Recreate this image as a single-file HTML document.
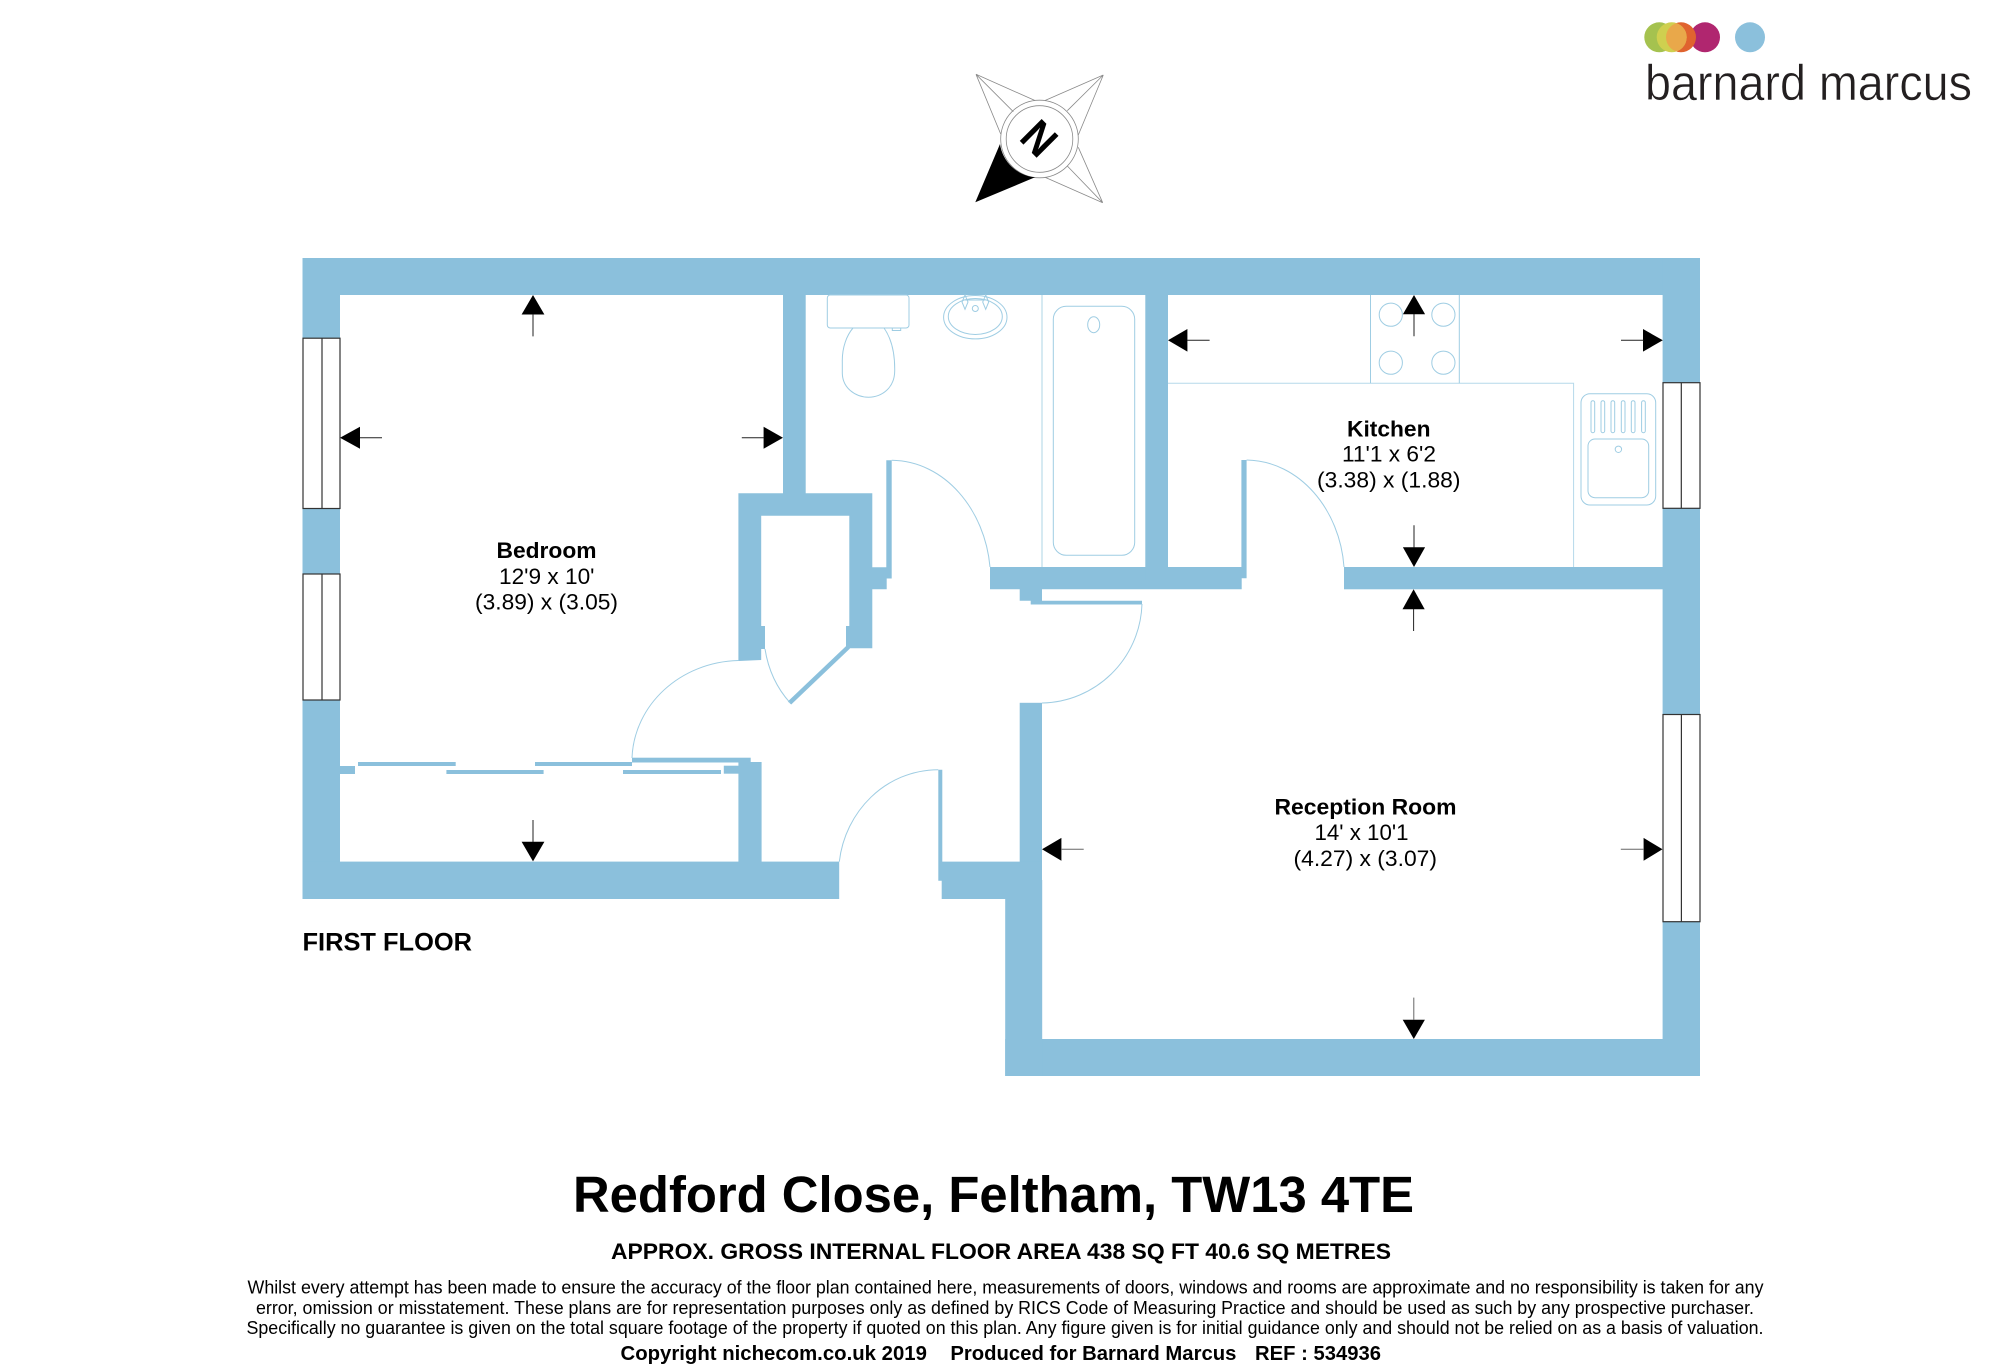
<!DOCTYPE html>
<html><head><meta charset="utf-8"><style>
html,body{margin:0;padding:0;background:#fff}
svg{display:block}
text{font-family:"Liberation Sans",sans-serif;fill:#000}
.b{font-weight:bold}
.t{font-size:22.5px}
.d{font-size:18px}
.l{fill:none;stroke:#9fcde3;stroke-width:1}
.a{stroke:#222;stroke-width:1;fill:none}
.w{fill:#fff;stroke:#333;stroke-width:1.2}
</style></head><body>
<svg width="2000" height="1372" viewBox="0 0 2000 1372" xmlns="http://www.w3.org/2000/svg">
<defs><clipPath id="oc"><circle cx="1681" cy="37.3" r="15"/></clipPath></defs>
<rect width="2000" height="1372" fill="#fff"/>

<!-- logo -->
<circle cx="1705" cy="37.3" r="15" fill="#b0266f"/>
<circle cx="1681" cy="37.3" r="15" fill="#e0632f"/>
<circle cx="1659.3" cy="37.3" r="15" fill="#a5c24f"/>
<circle cx="1671.7" cy="37.3" r="15" fill="#cfd04f"/>
<circle cx="1671.7" cy="37.3" r="15" fill="#e9a84a" clip-path="url(#oc)"/>
<circle cx="1750" cy="37.3" r="15" fill="#8bc0dc"/>
<text x="1645" y="100" font-size="50" textLength="327" lengthAdjust="spacingAndGlyphs" style="fill:#231f20;stroke:#fff;stroke-width:.5">barnard marcus</text>

<!-- compass -->
<g fill="none" stroke="#8a8a8a" stroke-width=".8">
<path d="M976 74.3L1035 100.5M976 74.3L1000.7 134M976 74.3L1013.3 111.7"/>
<path d="M1103.3 75L1045 100.5M1103.3 75L1078.3 135M1103.3 75L1067.3 110.7"/>
<path d="M1102.7 202.7L1045 177.3M1102.7 202.7L1078.3 147.3M1102.7 202.7L1067.3 166"/>
<circle cx="1039.5" cy="139" r="38.8"/>
<circle cx="1039.5" cy="139" r="33.3"/>
</g>
<path d="M975.3 202.3L1000 144A39 39 0 0 0 1035 177.3Z" fill="#000"/>
<text class="b" transform="translate(1039.5 138) rotate(45) scale(.9 1)" x="0" y="16" text-anchor="middle" font-size="45">N</text>

<!-- walls -->
<g fill="#8bc0dc">
<rect x="302.5" y="258" width="1397.5" height="37"/>
<rect x="302.5" y="258" width="37.5" height="641"/>
<rect x="1662.6" y="258" width="37.4" height="818"/>
<rect x="1005.2" y="1039" width="694.8" height="37"/>
<rect x="1005.2" y="880" width="37" height="196"/>
<rect x="1019.7" y="702.8" width="22.3" height="200"/>
<rect x="302.5" y="861.6" width="536.7" height="37.4"/>
<path d="M938.3 769.7H942.3V861.6H1042V899H941.7V880.7H938.3Z"/>
<rect x="738.4" y="762" width="23.2" height="110"/>
<rect x="632" y="757.7" width="118.7" height="4.8"/>
<rect x="340" y="766" width="15" height="8"/>
<rect x="358" y="762" width="97.7" height="4"/>
<rect x="446.4" y="770" width="97.2" height="4"/>
<rect x="535" y="762" width="97" height="4"/>
<rect x="623" y="770" width="98" height="4"/>
<rect x="723.8" y="765.7" width="15" height="8"/>
<rect x="783" y="290" width="22.7" height="210"/>
<path d="M738.4 493.3H872.3V648.3H846V626H849.3V515.7H761.2V626H765V649H761.2V660L738.4 661Z"/>
<path d="M846.7 645.5L850 648.5L791.2 704.5L787.8 701.5Z"/>
<path d="M872 567.3H886.3V460.3H891.7V578.5H886.7V589.3H872Z"/>
<path d="M990 567H1241.4V460H1246.6V578.3H1241.7V589.3H990Z"/>
<path d="M1019.7 589H1042V600.7H1142V604.5H1030.7V600.7H1019.7Z"/>
<rect x="1145.3" y="290" width="22.7" height="290"/>
<rect x="1344" y="567" width="330" height="22.3"/>
</g>

<!-- windows -->
<g class="w">
<rect class="w" x="303" y="338.2" width="37" height="170.3"/><path class="w" d="M322 338.2V508.5"/>
<rect class="w" x="303" y="574" width="37" height="126"/><path class="w" d="M322 574V700"/>
<rect class="w" x="1663" y="382.7" width="37" height="125.6"/><path class="w" d="M1681.3 382.7V508.3"/>
<rect class="w" x="1663" y="714.5" width="37" height="207.2"/><path class="w" d="M1681.4 714.5V921.7"/>
</g>

<!-- door arcs -->
<g class="l">
<path d="M632 758C634 705 680 662 738.4 660.5"/>
<path d="M765 649C768 668 775 686 790 702.7"/>
<path d="M891.7 460.3C945 461 985 510 990 567"/>
<path d="M1246.6 460C1300 461 1340 510 1344 567"/>
<path d="M1142 604C1140 660 1095 702 1042 703"/>
<path d="M839.3 861.7C845 812 885 770 938.3 769.7"/>
<!-- fixtures -->
<path d="M1042 295V567" stroke-width="1.4" style="stroke:#c5e0ec"/>
<rect x="827.3" y="295" width="81.7" height="33" rx="3"/>
<path d="M892.3 328V330.5H900.7V328"/>
<path d="M853 328C847 335 842 347 842.3 362L842.3 373C842.5 388 855 397 868.5 397.3C882 397 894.5 388 894.7 371C895 352 891 338 884 328"/>
<ellipse cx="975.3" cy="317.2" rx="31.7" ry="21.7"/>
<ellipse cx="975.3" cy="316.5" rx="27" ry="18"/>
<circle cx="975.3" cy="308.5" r="3"/>
<path d="M965 295L968 302L965 309.3L962 302ZM985.7 295L988.7 302L985.7 309.3L982.7 302ZM965 300H985.7"/>
<rect x="1053.3" y="306.3" width="81.4" height="249" rx="13"/>
<ellipse cx="1093.7" cy="324.7" rx="6" ry="8"/>
<path d="M1168 383.3H1573.6V567" style="stroke:#b5d9ea"/>
<path d="M1370.5 295V383.3M1459.3 295V383.3"/>
<circle cx="1390.8" cy="314.7" r="11.6"/><circle cx="1443.4" cy="314.7" r="11.6"/>
<circle cx="1390.8" cy="362.7" r="11.6"/><circle cx="1443.4" cy="362.7" r="11.6"/>
<rect x="1581" y="393.7" width="74.7" height="111.3" rx="9"/>
<rect x="1588" y="439" width="60.7" height="58.7" rx="7"/>
<circle cx="1618.4" cy="449.3" r="3.2"/>
<rect x="1591" y="400.7" width="3.7" height="32" rx="1.8"/>
<rect x="1601" y="400.7" width="3.7" height="32" rx="1.8"/>
<rect x="1611" y="400.7" width="3.7" height="32" rx="1.8"/>
<rect x="1621.3" y="400.7" width="3.7" height="32" rx="1.8"/>
<rect x="1631.3" y="400.7" width="3.7" height="32" rx="1.8"/>
<rect x="1641.6" y="400.7" width="3.7" height="32" rx="1.8"/>
</g>

<!-- dimension arrows -->
<g fill="#000">
<path d="M533 295L544.4 314.5H521.6Z"/><path class="a" d="M533 314V336.4"/>
<path d="M533 861.4L544.4 841.8H521.6Z"/><path class="a" d="M533 842V820"/>
<path d="M340 437.8L360 426.8V448.8Z"/><path class="a" d="M360 437.8H382"/>
<path d="M783 437.8L763.6 426.8V448.8Z"/><path class="a" d="M764 437.8H741.8"/>
<path d="M1414 295L1425.1 314.3H1402.9Z"/><path class="a" d="M1414 314V336.3"/>
<path d="M1168 340.3L1187.4 329V351.6Z"/><path class="a" d="M1187 340.3H1209.6"/>
<path d="M1662.8 340.3L1643 329V351.6Z"/><path class="a" d="M1643.5 340.3H1621"/>
<path d="M1414 567L1402.9 547.3H1425.1Z"/><path class="a" d="M1414 547.5V525.3"/>
<path d="M1413.6 589.3L1402.5 609.3H1424.7Z"/><path class="a" d="M1413.6 609V631"/>
<path d="M1042 849.3L1061.4 837.9V860.7Z"/><path class="a" d="M1061 849.3H1083.7" style="stroke:#666"/>
<path d="M1662.5 849.3L1643.6 837.9V860.7Z"/><path class="a" d="M1644 849.3H1620.8" style="stroke:#666"/>
<path d="M1413.8 1039L1402.7 1019.7H1424.9Z"/><path class="a" d="M1413.8 1020V997.6" style="stroke:#666"/>
</g>

<!-- room labels -->
<text class="t b" x="496.5" y="558" textLength="100" lengthAdjust="spacingAndGlyphs">Bedroom</text>
<text class="t" x="499" y="584" textLength="95.5" lengthAdjust="spacingAndGlyphs">12'9 x 10'</text>
<text class="t" x="475" y="609.5" textLength="143" lengthAdjust="spacingAndGlyphs">(3.89) x (3.05)</text>
<text class="t b" x="1347" y="436.7" textLength="83.5" lengthAdjust="spacingAndGlyphs">Kitchen</text>
<text class="t" x="1342" y="461.7" textLength="94" lengthAdjust="spacingAndGlyphs">11'1 x 6'2</text>
<text class="t" x="1317" y="487.7" textLength="143.5" lengthAdjust="spacingAndGlyphs">(3.38) x (1.88)</text>
<text class="t b" x="1274.5" y="814.5" textLength="182" lengthAdjust="spacingAndGlyphs">Reception Room</text>
<text class="t" x="1314.5" y="840" textLength="94" lengthAdjust="spacingAndGlyphs">14' x 10'1</text>
<text class="t" x="1293.5" y="866" textLength="143.5" lengthAdjust="spacingAndGlyphs">(4.27) x (3.07)</text>
<text class="b" x="302.5" y="950.7" font-size="25" textLength="169.5" lengthAdjust="spacingAndGlyphs">FIRST FLOOR</text>

<!-- footer -->
<text class="b" x="573" y="1212" font-size="50.7" textLength="841" lengthAdjust="spacingAndGlyphs">Redford Close, Feltham, TW13 4TE</text>
<text class="b" x="611" y="1259" font-size="22" textLength="780" lengthAdjust="spacingAndGlyphs">APPROX. GROSS INTERNAL FLOOR AREA 438 SQ FT 40.6 SQ METRES</text>
<text class="d" x="247.5" y="1293.3" textLength="1516" lengthAdjust="spacingAndGlyphs">Whilst every attempt has been made to ensure the accuracy of the floor plan contained here, measurements of doors, windows and rooms are approximate and no responsibility is taken for any</text>
<text class="d" x="256" y="1314" textLength="1498" lengthAdjust="spacingAndGlyphs">error, omission or misstatement. These plans are for representation purposes only as defined by RICS Code of Measuring Practice and should be used as such by any prospective purchaser.</text>
<text class="d" x="246.5" y="1334" textLength="1517" lengthAdjust="spacingAndGlyphs">Specifically no guarantee is given on the total square footage of the property if quoted on this plan. Any figure given is for initial guidance only and should not be relied on as a basis of valuation.</text>
<text class="b" x="620.5" y="1360" font-size="20" textLength="306.4" lengthAdjust="spacingAndGlyphs">Copyright nichecom.co.uk 2019</text>
<text class="b" x="950.4" y="1360" font-size="20" textLength="286" lengthAdjust="spacingAndGlyphs">Produced for Barnard Marcus</text>
<text class="b" x="1255" y="1360" font-size="20" textLength="126" lengthAdjust="spacingAndGlyphs">REF : 534936</text>
</svg>
</body></html>
